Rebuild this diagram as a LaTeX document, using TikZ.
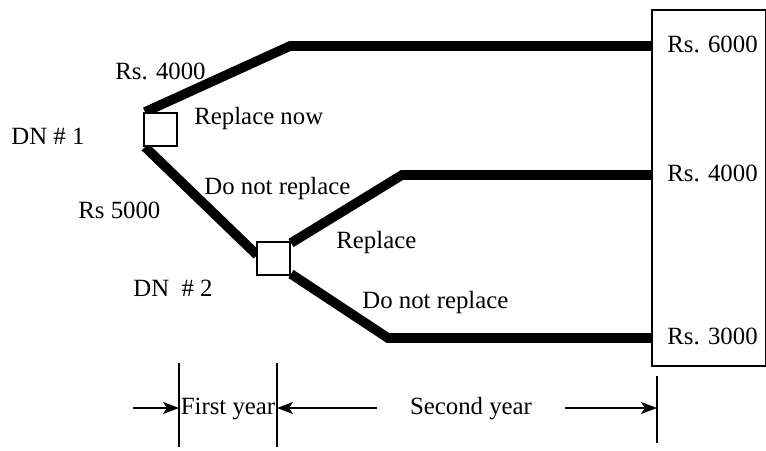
\documentclass[tikz,border=0pt]{standalone}
\usepackage{fontspec}
\setmainfont{Liberation Serif}
\usetikzlibrary{arrows.meta}
\begin{document}
\begin{tikzpicture}[x=0.5pt,y=-0.5pt,
  branch/.style={line width=4.8pt},
  decbox/.style={draw, line width=1pt, minimum size=16.5pt, inner sep=0pt, fill=white},
  paybox/.style={draw, line width=1pt, minimum width=57pt, minimum height=178pt, inner sep=0pt},
  lbl/.style={font=\fontsize{12.4}{14}\selectfont, inner sep=0pt, text height=10.7pt, text depth=2.5pt},
  tick/.style={line width=1pt},
  dimarrow/.style={line width=1pt, -{Stealth[length=8pt,width=6pt,inset=2pt]}}]
\useasboundingbox (0,0) rectangle (766,450);
% nodes
\node[paybox] (pay) at (709,188) {};
\node[decbox] (dn1) at (160.5,129.5) {};
\node[decbox] (dn2) at (273.5,258.5) {};
% bend coordinates
\coordinate (b1) at (290,46);
\coordinate (b2) at (402,175);
\coordinate (b3) at (388,338);
\coordinate (e1) at (pay.west |- b1);
\coordinate (e2) at (pay.west |- b2);
\coordinate (e3) at (pay.west |- b3);
\coordinate (d2in) at (257,255);
% branches
\draw[branch] ([xshift=1pt]dn1.north west) -- (b1) -- (e1);
\draw[branch] ([xshift=1pt]dn1.south west) -- (d2in);
\draw[branch] ([yshift=-1pt]dn2.north east) -- (b2) -- (e2);
\draw[branch] ([yshift=1pt]dn2.south east) -- (b3) -- (e3);
\node[decbox] at (dn1) {};
\node[decbox] at (dn2) {};
% labels
\node[lbl, anchor=west] (r6) at (667,44) {Rs. 6000};
\node[lbl, anchor=west] (r4b) at (667,173) {Rs. 4000};
\node[lbl, anchor=west] (r3) at (667,336) {Rs. 3000};
\node[lbl, anchor=west] (r4a) at (115,71) {Rs. 4000};
\node[lbl, anchor=west] (rn) at (194,116) {Replace now};
\node[lbl, anchor=west] (dn1l) at (11,136) {DN \# 1};
\node[lbl, anchor=west] (dnr1) at (204,186) {Do not replace};
\node[lbl, anchor=west] (r5) at (78,210) {Rs 5000};
\node[lbl, anchor=west] (rep) at (336,240) {Replace};
\node[lbl, anchor=west] (dn2l) at (133,288) {DN \ \# 2};
\node[lbl, anchor=west] (dnr2) at (362,300) {Do not replace};
% time scale
\coordinate (t0t) at (179,363); \coordinate (t0b) at (179,447);
\coordinate (t1t) at (277,363); \coordinate (t1b) at (277,447);
\coordinate (t2t) at (657,376); \coordinate (t2b) at (657,443);
\draw[tick] (t0t) -- (t0b);
\draw[tick] (t1t) -- (t1b);
\draw[tick] (t2t) -- (t2b);
\node[lbl] (fy) at (228,406) {First year};
\node[lbl] (sy) at (471,406) {Second year};
\coordinate (a0) at (133,408);
\coordinate (a1) at (377,408);
\coordinate (a2) at (565,408);
\draw[dimarrow] (a0) -- (t0t |- a0);
\draw[dimarrow] (a1) -- (t1t |- a1);
\draw[dimarrow] (a2) -- (t2t |- a2);
\end{tikzpicture}
\end{document}
